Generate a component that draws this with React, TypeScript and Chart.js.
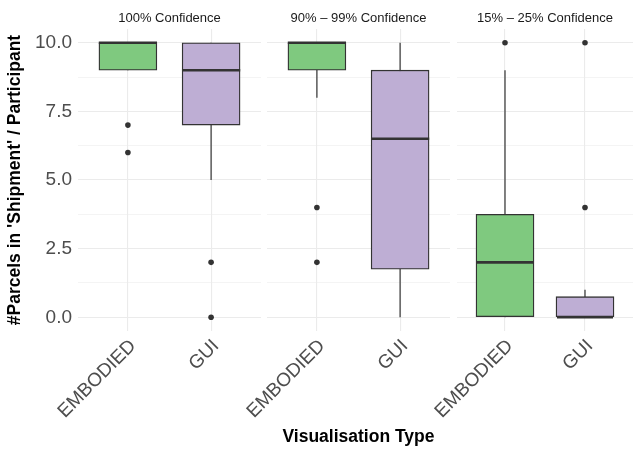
import React, { useEffect, useRef } from 'react';
import { Chart, registerables } from 'chart.js';

Chart.register(...registerables);

// ---- data ----
const panelTitles = ['100% Confidence', '90% – 99% Confidence', '15% – 25% Confidence'];
const categories = ['EMBODIED', 'GUI'];
const whiskerLow = [[9, 5], [8, 0], [0, 0]];
const lowerQuartile = [[9, 7], [9, 1.75], [0, 0]];
const medians = [[10, 9], [10, 6.5], [2, 0]];
const upperQuartile = [[10, 10], [10, 9], [3.75, 0.75]];
const whiskerHigh = [[10, 10], [10, 10], [9, 1]];
const outliers = [[[7, 6], [2, 0]], [[4, 2], []], [[10], [10, 4]]];
const yTickValues = [0, 1.25, 2.5, 3.75, 5, 6.25, 7.5, 8.75, 10];
const yLabelValues = [0, 2.5, 5, 7.5, 10];
const boxColors = ['#7FC97F', '#BEAED4'];

// ---- layout / style ----
const W = 637;
const H = 450;
const FONT = "'Liberation Sans', Arial, Helvetica, sans-serif";
const panelLayout = [
  { left: 0, right: 376, yAxisWidth: 78 },
  { left: 267, right: 187, yAxisWidth: 0 },
  { left: 457, right: 0, yAxisWidth: 0 },
];
const INK = '#333333';
const GRID = '#EBEBEB';
const HALF_BOX = 0.35;

function buildConfig(p: number): any {
  const datasets: any[] = [];
  categories.forEach((_, i) => {
    datasets.push({
      type: 'line',
      data: [
        { x: i, y: whiskerLow[p][i] },
        { x: i, y: whiskerHigh[p][i] },
      ],
      borderColor: INK,
      borderWidth: 1.2,
      pointRadius: 0,
      order: 3,
    });
  });
  datasets.push({
    type: 'bar',
    data: categories.map((_, i) => ({ x: i, y: [lowerQuartile[p][i], upperQuartile[p][i]] })),
    backgroundColor: boxColors,
    borderColor: INK,
    borderWidth: 1.35,
    borderSkipped: false,
    barThickness: 58,
    order: 2,
  });
  categories.forEach((_, i) => {
    datasets.push({
      type: 'line',
      data: [
        { x: i - HALF_BOX, y: medians[p][i] },
        { x: i + HALF_BOX, y: medians[p][i] },
      ],
      borderColor: INK,
      borderWidth: 2.6,
      pointRadius: 0,
      order: 0,
    });
  });
  const pts: any[] = [];
  categories.forEach((_, i) => outliers[p][i].forEach((v) => pts.push({ x: i, y: v })));
  datasets.push({
    type: 'scatter',
    data: pts,
    pointRadius: 2.8,
    pointBackgroundColor: INK,
    pointBorderWidth: 0,
    order: 1,
  });

  const lay = panelLayout[p];
  return {
    type: 'bar',
    data: { datasets },
    options: {
      animation: false,
      responsive: false,
      events: [],
      layout: { padding: { left: lay.left, right: lay.right, top: 0, bottom: 0 } },
      plugins: {
        legend: { display: false },
        tooltip: { enabled: false },
        title: {
          display: true,
          text: panelTitles[p],
          fullSize: false,
          color: '#1A1A1A',
          font: { family: FONT, size: 13, weight: 'normal' },
          padding: { top: 11, bottom: 2.4 },
        },
      },
      scales: {
        x: {
          type: 'linear',
          min: -0.6,
          max: 1.6,
          offset: false,
          afterBuildTicks: (s: any) => {
            s.ticks = categories.map((_, i) => ({ value: i }));
          },
          afterFit: (s: any) => {
            s.height = 119;
            s.paddingLeft = 0;
            s.paddingRight = 0;
          },
          ticks: {
            autoSkip: false,
            minRotation: 45,
            maxRotation: 45,
            padding: 4,
            labelOffset: 5,
            color: '#4D4D4D',
            font: { family: FONT, size: 19 },
            callback: (v: any) => categories[Math.round(v)] ?? '',
          },
          grid: { color: GRID, lineWidth: 1.1, drawTicks: false, offset: false },
          border: { display: false },
          title: {
            display: p === 1,
            text: 'Visualisation Type',
            color: '#000000',
            font: { family: FONT, size: 17.5, weight: 'bold' },
            padding: { top: 0, bottom: 2 },
          },
        },
        y: {
          type: 'linear',
          min: -0.5,
          max: 10.5,
          afterBuildTicks: (s: any) => {
            s.ticks = yTickValues.map((v) => ({ value: v }));
          },
          afterFit: (s: any) => {
            s.width = lay.yAxisWidth;
          },
          ticks: {
            display: p === 0,
            padding: 6,
            color: '#4D4D4D',
            font: { family: FONT, size: 19 },
            callback: (v: any) => (yLabelValues.includes(v) ? Number(v).toFixed(1) : ''),
          },
          grid: {
            color: GRID,
            drawTicks: false,
            lineWidth: (ctx: any) => (ctx.tick && yLabelValues.includes(ctx.tick.value) ? 1.1 : 0.55),
          },
          border: { display: false },
          title: {
            display: p === 0,
            text: "#Parcels in 'Shipment' / Participant",
            color: '#000000',
            font: { family: FONT, size: 17.5, weight: 'bold' },
            padding: { top: 5, bottom: 0 },
          },
        },
      },
    },
  };
}

function Panel({ index }: { index: number }) {
  const ref = useRef<HTMLCanvasElement | null>(null);
  useEffect(() => {
    if (!ref.current) return;
    const chart = new Chart(ref.current, buildConfig(index));
    return () => chart.destroy();
  }, [index]);
  return (
    <canvas
      ref={ref}
      width={W}
      height={H}
      style={{ position: 'absolute', left: 0, top: 0, width: W, height: H }}
    />
  );
}

export default function App() {
  return (
    <div style={{ position: 'absolute', left: 0, top: 0, width: W, height: H, background: '#FFFFFF' }}>
      {panelTitles.map((_, i) => (
        <Panel key={i} index={i} />
      ))}
    </div>
  );
}
